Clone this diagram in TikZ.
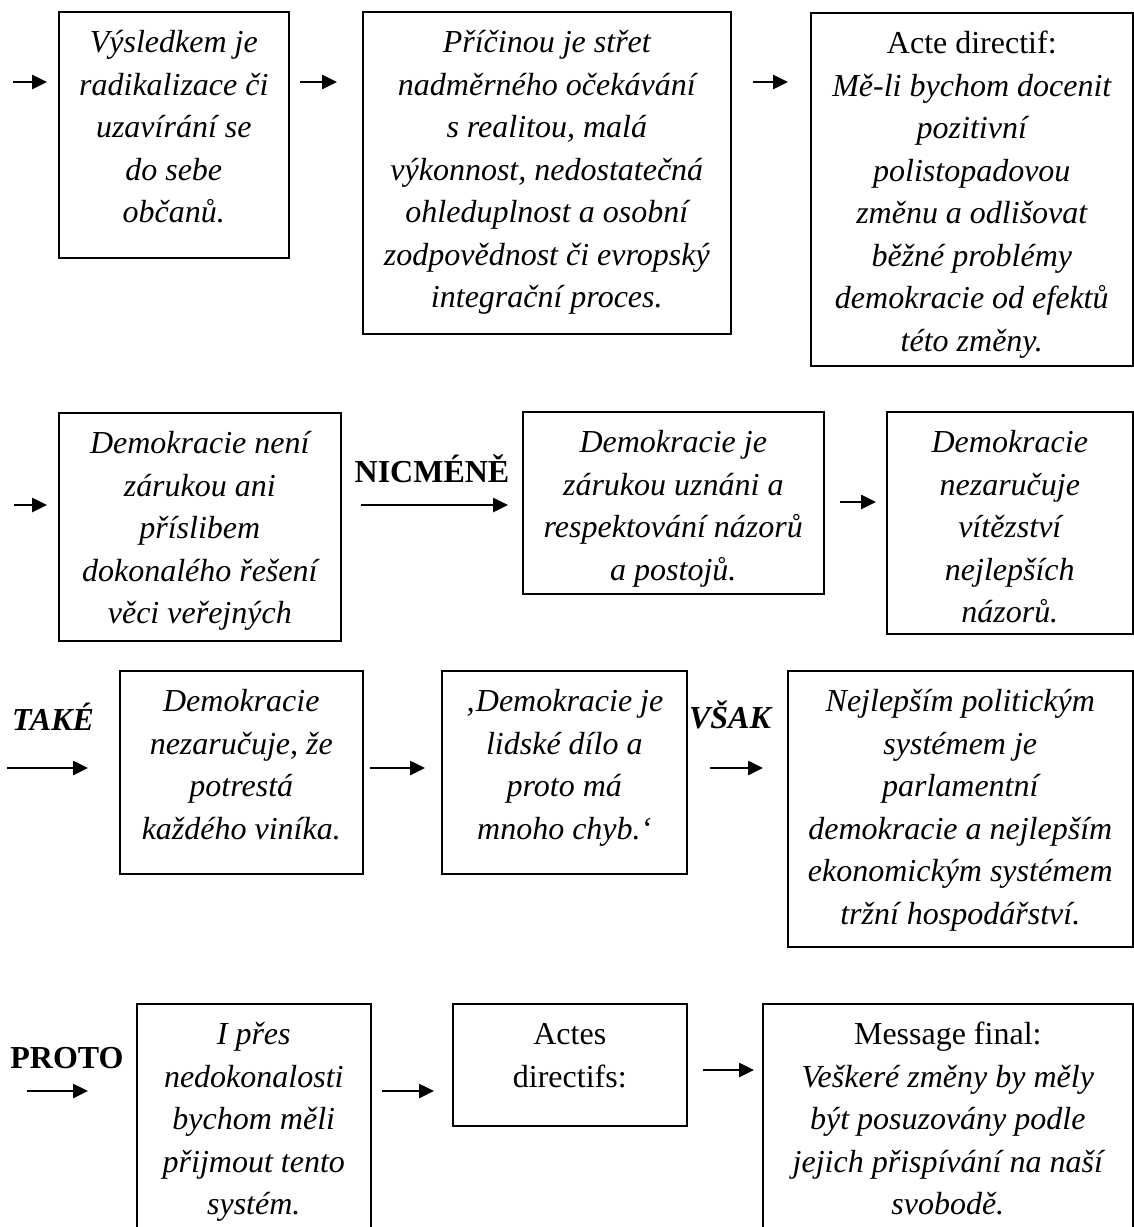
\documentclass[tikz,border=0pt]{standalone}
\usepackage{fontspec}
\setmainfont{Liberation Serif}
\usetikzlibrary{arrows.meta}
\newlength\pxu
\setlength\pxu{0.5pt}
\newcommand\bxt[3]{\parbox[t][#2\pxu][t]{#1\pxu}{\centering\rule{0pt}{20.5pt}#3\par}}
\begin{document}
\begin{tikzpicture}[x=0.5pt,y=-0.5pt,
  box/.style={draw,line width=0.8pt,inner sep=0pt,anchor=north west,font=\fontsize{16}{21.25}\selectfont},
  arr/.style={line width=1.3pt,-{Triangle[length=7.5pt,width=7pt]}},
  lbl/.style={anchor=base,inner sep=0pt,font=\fontsize{16}{21.25}\selectfont\bfseries}]
\useasboundingbox (0,0) rectangle (1134,1227);

% Row 1
\node[box] (A) at (58,11) {\bxt{230}{246}{\itshape Výsledkem je\\ radikalizace či\\ uzavírání se\\ do sebe\\ občanů.}};
\node[box] (B) at (362,11) {\bxt{368}{322}{\itshape Příčinou je střet\\ nadměrného očekávání\\ s realitou, malá\\ výkonnost, nedostatečná\\ ohleduplnost a osobní\\ zodpovědnost či evropský\\ integrační proces.}};
\node[box] (C) at (810,12) {\bxt{322}{353}{Acte directif:\\ \itshape Mě-li bychom docenit\\ pozitivní\\ polistopadovou\\ změnu a odlišovat\\ běžné problémy\\ demokracie od efektů\\ této změny.}};
\coordinate (a1s) at (13,82);  \coordinate (a1e) at (47,82);
\coordinate (a2s) at (300,82); \coordinate (a2e) at (337,82);
\coordinate (a3s) at (753,82); \coordinate (a3e) at (788,82);
\draw[arr] (a1s) -- (a1e);
\draw[arr] (a2s) -- (a2e);
\draw[arr] (a3s) -- (a3e);

% Row 2
\node[box] (D) at (58,412) {\bxt{282}{228}{\itshape Demokracie není\\ zárukou ani\\ příslibem\\ dokonalého řešení\\ věci veřejných}};
\node[box] (E) at (522,411) {\bxt{301}{182}{\itshape Demokracie je\\ zárukou uznáni a\\ respektování názorů\\ a postojů.}};
\node[box] (F) at (886,411) {\bxt{246}{222}{\itshape Demokracie\\ nezaručuje\\ vítězství\\ nejlepších\\ názorů.}};
\node[lbl] (nicm) at (432,482) {NICMÉNĚ};
\coordinate (b1s) at (14,505);  \coordinate (b1e) at (47,505);
\coordinate (b2s) at (361,505); \coordinate (b2e) at (508,505);
\coordinate (b3s) at (840,502); \coordinate (b3e) at (876,502);
\draw[arr] (b1s) -- (b1e);
\draw[arr] (b2s) -- (b2e);
\draw[arr] (b3s) -- (b3e);

% Row 3
\node[lbl,font=\fontsize{16}{21.25}\selectfont\bfseries\itshape] (take) at (53,730) {TAKÉ};
\node[box] (G) at (119,670) {\bxt{243}{203}{\itshape Demokracie\\ nezaručuje, že\\ potrestá\\ každého viníka.}};
\node[box] (H) at (441,670) {\bxt{245}{203}{\itshape ‚Demokracie je\\ lidské dílo a\\ proto má\\ mnoho chyb.‘}};
\node[lbl,font=\fontsize{16}{21.25}\selectfont\bfseries\itshape] (vsak) at (730,728) {VŠAK};
\node[box] (I) at (787,670) {\bxt{345}{276}{\itshape Nejlepším politickým\\ systémem je\\ parlamentní\\ demokracie a nejlepším\\ ekonomickým systémem\\ tržní hospodářství.}};
\coordinate (c1s) at (7,768);   \coordinate (c1e) at (88,768);
\coordinate (c2s) at (370,768); \coordinate (c2e) at (425,768);
\coordinate (c3s) at (710,768); \coordinate (c3e) at (763,768);
\draw[arr] (c1s) -- (c1e);
\draw[arr] (c2s) -- (c2e);
\draw[arr] (c3s) -- (c3e);

% Row 4
\node[lbl] (proto) at (67,1068) {PROTO};
\node[box] (J) at (136,1003) {\bxt{234}{260}{\itshape I přes\\ nedokonalosti\\ bychom měli\\ přijmout tento\\ systém.}};
\node[box] (K) at (452,1003) {\bxt{234}{122}{Actes\\ directifs:}};
\node[box] (L) at (762,1003) {\bxt{370}{260}{Message final:\\ \itshape Veškeré změny by měly\\ být posuzovány podle\\ jejich přispívání na naší\\ svobodě.}};
\coordinate (d1s) at (27,1091);  \coordinate (d1e) at (88,1091);
\coordinate (d2s) at (382,1091); \coordinate (d2e) at (434,1091);
\coordinate (d3s) at (703,1070); \coordinate (d3e) at (754,1070);
\draw[arr] (d1s) -- (d1e);
\draw[arr] (d2s) -- (d2e);
\draw[arr] (d3s) -- (d3e);
\end{tikzpicture}
\end{document}
